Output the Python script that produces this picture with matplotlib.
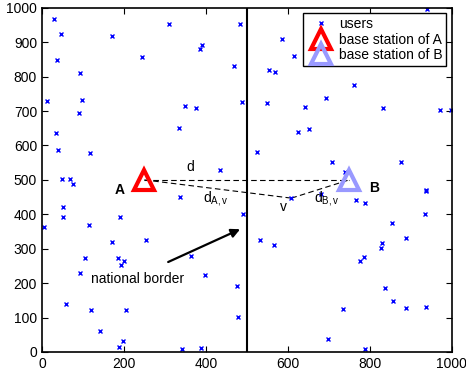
import matplotlib
matplotlib.use("Agg")
import matplotlib.pyplot as plt

plt.rcParams['font.family'] = ['Liberation Sans', 'DejaVu Sans']

user_x = [30, 46, 37, 171, 310, 245, 390, 385, 94, 13, 97, 90, 350, 375, 335, 34, 40, 117,
          49, 68, 76, 434, 484, 470, 488,
          52, 52, 5, 115, 191, 338, 170, 254, 105, 185, 200, 192, 364, 94, 399, 59, 120,
          205, 141, 198, 188, 343, 389, 477, 478, 490,
          586, 615, 554, 568, 940, 761, 694, 550, 643, 832, 972, 999, 624, 652, 524, 707,
          876, 741, 938,
          681, 609, 767, 788, 937, 934, 854, 888, 829, 828, 532, 567, 787, 777, 837, 857,
          890, 937, 735, 699, 788]
user_y = [967, 925, 849, 919, 952, 856, 891, 879, 810, 728, 732, 694, 716, 708, 651, 636, 588, 579,
          502, 503, 489, 529, 954, 830, 726,
          422, 391, 362, 370, 392, 450, 319, 326, 274, 274, 264, 252, 279, 228, 224, 138, 122,
          123, 61, 32, 15, 8, 12, 193, 102, 401,
          909, 860, 820, 814, 998, 775, 739, 724, 711, 710, 702, 704, 639, 647, 580, 552,
          552, 523, 471,
          460, 447, 442, 432, 468, 402, 374, 330, 317, 303, 326, 310, 277, 264, 185, 147,
          127, 132, 126, 38, 8]

bs_A = (250, 500)
bs_B = (750, 500)
v_pt = (609, 447)
border_x = 500
x_ticks = [0, 200, 400, 600, 800, 1000]
y_ticks = [0, 100, 200, 300, 400, 500, 600, 700, 800, 900, 1000]

fig = plt.figure(figsize=(4.66, 3.74), dpi=100)
ax = fig.add_axes([0.090, 0.059, 0.879, 0.920])

# distance lines
ax.plot([bs_A[0], bs_B[0]], [bs_A[1], bs_B[1]], '--', color='black', lw=0.8, dashes=(5, 3))
ax.plot([bs_A[0], v_pt[0]], [bs_A[1], v_pt[1]], '--', color='black', lw=0.8, dashes=(5, 3))
ax.plot([v_pt[0], bs_B[0]], [v_pt[1], bs_B[1]], '--', color='black', lw=0.8, dashes=(5, 3))

# border
ax.axvline(border_x, color='black', lw=1.5)

ax.plot(user_x, user_y, 'x', color='blue', ms=3.3, mew=1.0, ls='none', label='users')
ax.plot([bs_A[0]], [bs_A[1]], '^', ms=14.5, mfc='none', mec='red', mew=3, ls='none',
        label='base station of A')
ax.plot([bs_B[0]], [bs_B[1]], '^', ms=14.5, mfc='none', mec='#9999ff', mew=3, ls='none',
        label='base station of B')

ax.text(190, 471, 'A', fontsize=10, fontweight='bold', ha='center', va='center')
ax.text(810, 476, 'B', fontsize=10, fontweight='bold', ha='center', va='center')
ax.text(363, 537, 'd', fontsize=10, ha='center', va='center')
ax.text(392, 447, r'd$_{\mathregular{A,v}}$', fontsize=10, ha='left', va='center')
ax.text(589, 422, 'v', fontsize=10, ha='center', va='center')
ax.text(664, 447, r'd$_{\mathregular{B,v}}$', fontsize=10, ha='left', va='center')

ax.annotate('', xy=(490, 360), xytext=(302, 258),
            arrowprops=dict(arrowstyle='-|>', color='black', lw=1.6, mutation_scale=13))
ax.text(233, 213, 'national border', fontsize=10, ha='center', va='center')

ax.set_xlim(0, 1000)
ax.set_ylim(0, 1000)
ax.set_xticks(x_ticks)
ax.set_yticks(y_ticks)
ax.tick_params(direction='in', top=True, right=True, labelsize=10, length=4, width=0.8)
for s in ax.spines.values():
    s.set_linewidth(1.2)

leg = ax.legend(loc='upper right', fontsize=10, fancybox=False, edgecolor='black',
                framealpha=1, borderaxespad=0.4, handletextpad=0.3, borderpad=0.25,
                labelspacing=0.12, handlelength=2.0, markerscale=0.95)
leg.get_frame().set_linewidth(1.0)

fig.savefig('out.png', dpi=100)
